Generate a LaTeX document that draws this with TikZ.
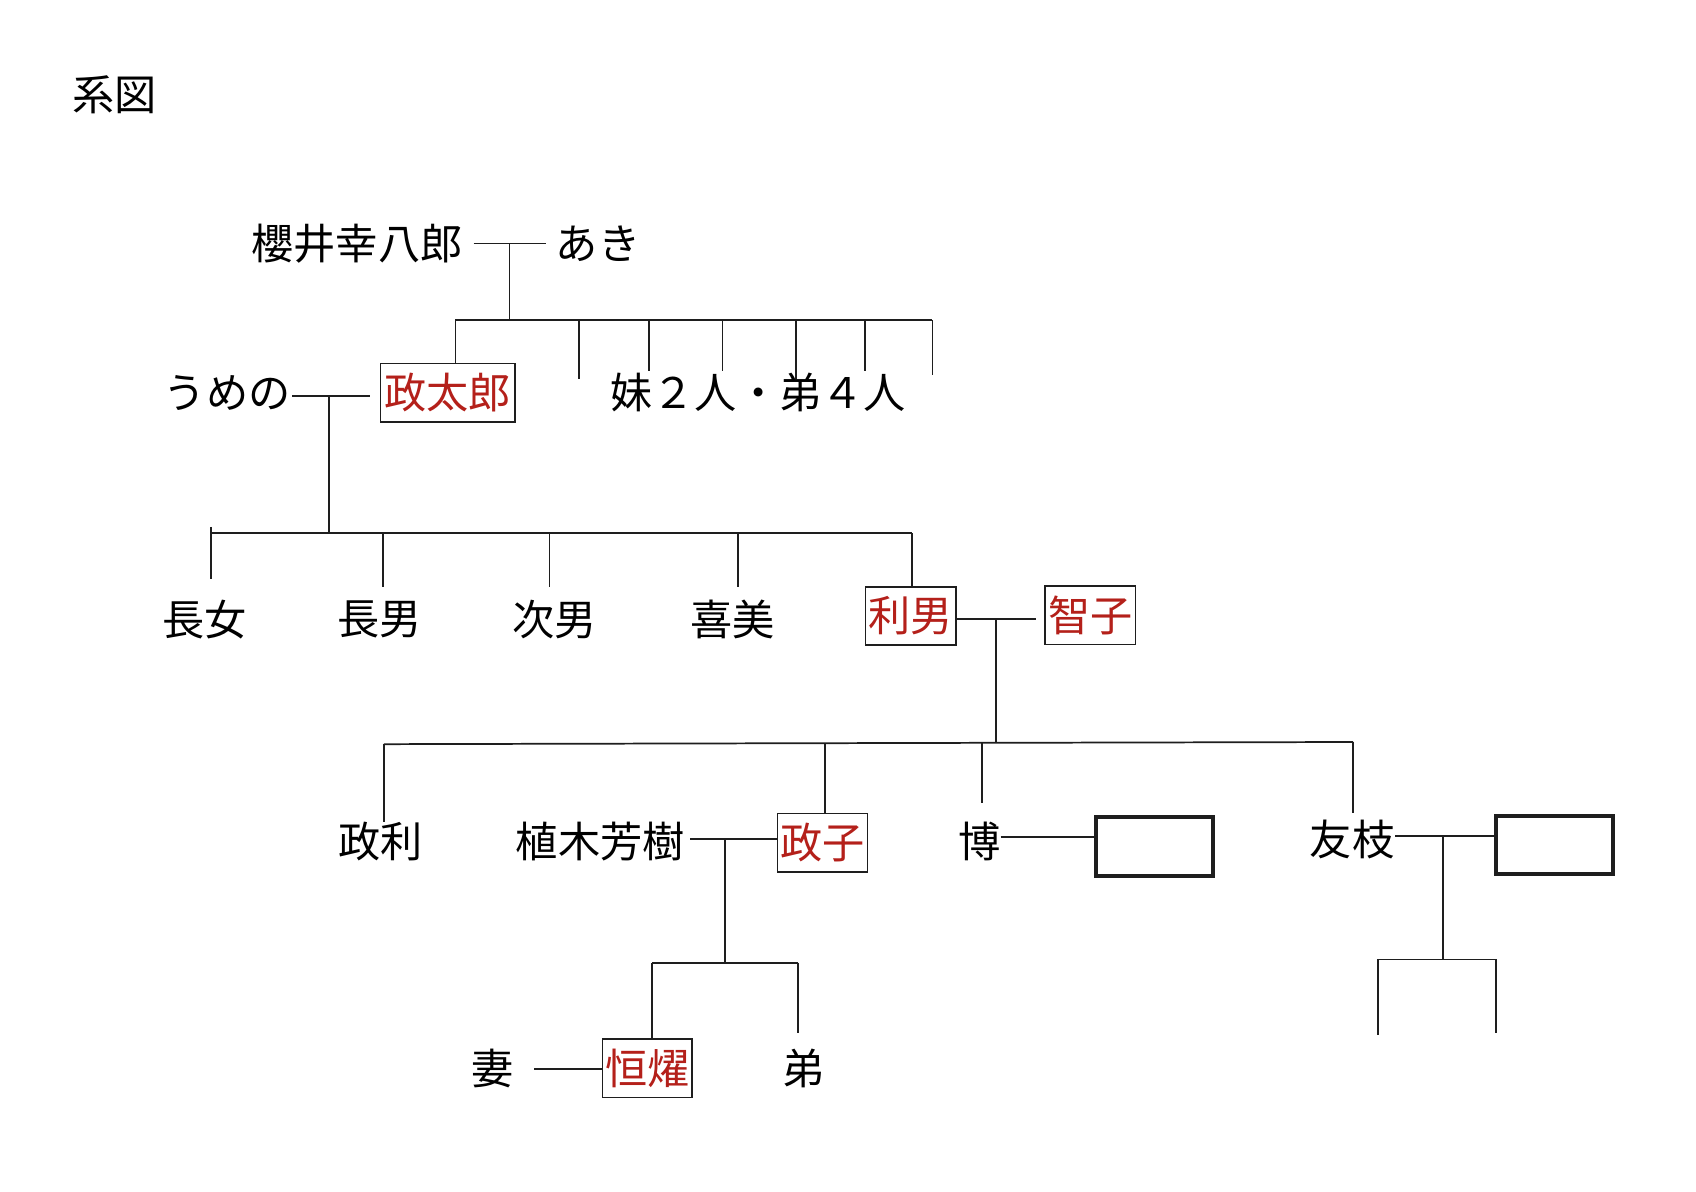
\documentclass[tikz,border=0pt]{standalone}
\usepackage{fontspec}
\newfontfamily\jp{Noto Sans CJK JP}
\definecolor{kred}{RGB}{180,32,26}
\definecolor{lin}{RGB}{30,30,30}
\begin{document}
\begin{tikzpicture}[x=0.5pt,y=-0.5pt,
  nm/.style={inner sep=0pt,font=\jp\fontsize{19.5pt}{20pt}\selectfont,text=black},
  rbox/.style={draw=lin,line width=0.7pt,inner sep=0pt,font=\jp\fontsize{19.5pt}{20pt}\selectfont,text=kred,minimum height=27pt},
  ebox/.style={draw=lin,line width=1.9pt,inner sep=0pt,minimum width=54pt,minimum height=27pt},
  ln/.style={draw=lin,line width=0.8pt}]
\useasboundingbox[fill=white] (0,0) rectangle (1568,1102);

% title
\node[nm] (title) at (106,88) {系図};

% generation 1
\node[nm] (sakurai) at (330,225) {櫻井幸八郎};
\node[nm] (aki) at (553,225) {あき};
\draw[ln,shorten <=5pt,shorten >=4.5pt] (sakurai.east) -- (aki.west);
\coordinate (m1) at (471,225);
\coordinate (b1) at (471,296);
\draw[ln] (m1) -- (b1);
\coordinate (b1l) at (421,296);
\coordinate (b1r) at (862,296);
\draw[ln] (b1l) -- (b1r);

% generation 2
\node[nm] (umeno) at (210,363) {うめの};
\node[rbox,minimum width=62pt] (masataro) at (414,363) {政太郎};
\node[nm] (sibs) at (701,363) {妹２人・弟４人};
\draw[ln] (b1l) -- (masataro.north -| b1l);
\foreach \x/\y in {535/350,600/343,668/343,736/350,800/343,862/347}{
  \draw[ln] (\x,296) -- (\x,\y);
}
\coordinate (u1) at (270,366);
\coordinate (u2) at (342,366);
\draw[ln] (u1) -- (u2);
\coordinate (m2) at (304,366);
\coordinate (b2) at (304,493);
\draw[ln] (m2) -- (b2);
\coordinate (b2l) at (195,493);
\coordinate (b2r) at (843,493);
\draw[ln] (b2l) -- (b2r);

% generation 3
\node[nm] (c1) at (189,573) {長女};
\node[nm] (c2) at (351,573) {長男};
\node[nm] (c3) at (513,573) {次男};
\node[nm] (c4) at (677,573) {喜美};
\node[rbox,minimum width=42pt] (toshio) at (842,569.5) {利男};
\node[rbox,minimum width=42pt] (tomoko) at (1008,569) {智子};
\draw[ln] (195,487) -- (195,535);
\draw[ln] (354,493) -- (354,543);
\draw[ln] (508,493) -- (508,543);
\draw[ln] (682,493) -- (682,543);
\draw[ln] (b2r) -- (toshio.north -| b2r);
\coordinate (t1) at (921,572);
\draw[ln] (toshio.east |- t1) -- (958,572);
\coordinate (b3) at (921,687);
\draw[ln] (t1) -- (b3);
\coordinate (b3l) at (355,688);
\coordinate (b3r) at (1251,686);
\draw[ln] (b3l) -- (b3r);

% generation 4
\node[nm] (masatoshi) at (352,778) {政利};
\node[nm] (ueki) at (555,778) {植木芳樹};
\node[rbox,minimum width=41.5pt] (masako) at (760.5,779) {政子};
\node[nm] (hiroshi) at (906,778) {博};
\node[ebox] (sp1) at (1067.5,782.5) {};
\node[nm] (tomoe) at (1250,776) {友枝};
\node[ebox] (sp2) at (1437,781) {};
\draw[ln] (355,688) -- (355,760);
\coordinate (mk) at (763,687);
\draw[ln] (mk) -- (masako.north -| mk);
\draw[ln] (908,687) -- (908,742);
\draw[ln] (b3r) -- (1251,752);
\coordinate (k1) at (670,776);
\draw[ln] (638,776) -- (masako.west |- k1);
\coordinate (b4) at (670,890);
\draw[ln] (k1) -- (b4);
\draw[ln] (925,774) -- (sp1.west |- 0,774);
\coordinate (k2) at (1334,773);
\draw[ln] (1290,773) -- (sp2.west |- k2);
\coordinate (b5) at (1334,887);
\draw[ln] (k2) -- (b5);

% generation 5
\node[nm] (tsuma) at (455,988) {妻};
\node[rbox,minimum width=41.5pt] (tsuneaki) at (598.5,987.5) {恒燿};
\node[nm] (otouto) at (743,988) {弟};
\draw[ln] (494,988) -- (tsuneaki.west |- 0,988);
\draw[ln] (603,890) -- (738,890);
\draw[ln] (603,890) -- (tsuneaki.north -| 603,0);
\draw[ln] (738,890) -- (738,955);
\draw[ln] (1274,887) -- (1383,887);
\draw[ln] (1274,887) -- (1274,957);
\draw[ln] (1383,887) -- (1383,955);
\end{tikzpicture}
\end{document}
